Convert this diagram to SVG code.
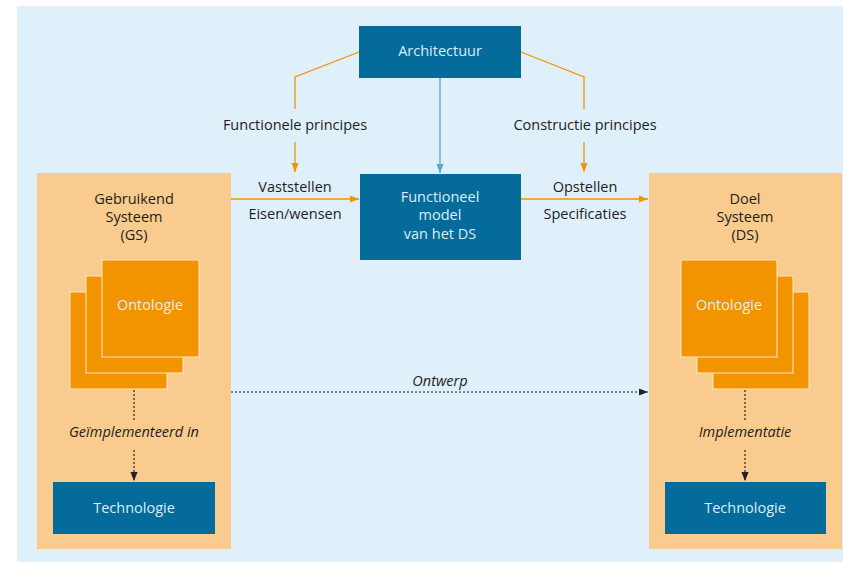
<svg xmlns="http://www.w3.org/2000/svg" width="843" height="562" viewBox="0 0 843 562">
<style>
.t{font-family:"Open Sans","Noto Sans",sans-serif;font-size:14.5px;fill:#1e1e1e;text-anchor:middle}
.w{fill:#dcedf7}
.i{font-style:italic}
.blue{fill:#046b9b}
.peach{fill:#f9cb8e}
.sheet{fill:#f29400;stroke:#fde6c4;stroke-width:1}
.or{fill:none;stroke:#f29400;stroke-width:1.3}
.dot{fill:none;stroke:#222;stroke-width:1.2;stroke-dasharray:2 2}
</style>
<defs>
<marker id="ao" viewBox="0 0 10 10" refX="10" refY="5" markerWidth="9" markerHeight="9" markerUnits="userSpaceOnUse" orient="auto"><path d="M0,1 L10,5 L0,9 Z" fill="#f29400"/></marker>
<marker id="ab" viewBox="0 0 10 10" refX="10" refY="5" markerWidth="9" markerHeight="9" markerUnits="userSpaceOnUse" orient="auto"><path d="M0,1 L10,5 L0,9 Z" fill="#5ca7d0"/></marker>
<marker id="ak" viewBox="0 0 10 10" refX="10" refY="5" markerWidth="9" markerHeight="9" markerUnits="userSpaceOnUse" orient="auto"><path d="M0,1 L10,5 L0,9 Z" fill="#222"/></marker>
</defs>
<rect x="17" y="6" width="826" height="556" fill="#dff0fa"/>

<g id="gs">
<rect class="peach" x="37" y="173" width="194" height="376"/>
<text class="t" x="134" y="204">Gebruikend</text>
<text class="t" x="134" y="222">Systeem</text>
<text class="t" x="134" y="240">(GS)</text>
</g>
<g id="ds">
<rect class="peach" x="649" y="173" width="193" height="376"/>
<text class="t" x="745" y="204">Doel</text>
<text class="t" x="745" y="222">Systeem</text>
<text class="t" x="745" y="240">(DS)</text>
</g>

<g id="ont-gs">
<rect class="sheet" x="70" y="292" width="97" height="97"/>
<rect class="sheet" x="86" y="276" width="97" height="97"/>
<rect class="sheet" x="102" y="260" width="97" height="97"/>
<text class="t w" x="150" y="310">Ontologie</text>
</g>
<g id="ont-ds">
<rect class="sheet" x="713" y="292" width="96" height="97"/>
<rect class="sheet" x="697" y="276" width="96" height="97"/>
<rect class="sheet" x="681" y="260" width="96" height="97"/>
<text class="t w" x="729" y="310">Ontologie</text>
</g>

<g id="arch">
<rect class="blue" x="359" y="26" width="162" height="52"/>
<text class="t w" x="440" y="56">Architectuur</text>
</g>
<g id="fm">
<rect class="blue" x="360" y="174" width="161" height="86"/>
<text class="t w" x="440" y="202">Functioneel</text>
<text class="t w" x="440" y="220">model</text>
<text class="t w" x="440" y="238.5">van het DS</text>
</g>
<g id="tech-gs">
<rect class="blue" x="53" y="482" width="162" height="52"/>
<text class="t w" x="134" y="513">Technologie</text>
</g>
<g id="tech-ds">
<rect class="blue" x="665" y="482" width="161" height="52"/>
<text class="t w" x="745" y="513">Technologie</text>
</g>

<g id="connectors">
<path class="or" d="M359,52 L295,77 L295,109"/>
<path class="or" d="M295,142 L295,172" marker-end="url(#ao)"/>
<path class="or" d="M521,52 L584,77 L584,109"/>
<path class="or" d="M584,142 L584,172" marker-end="url(#ao)"/>
<path d="M440,78 L440,173" fill="none" stroke="#5ca7d0" stroke-width="1.3" marker-end="url(#ab)"/>
<path class="or" d="M231,199 L359,199" marker-end="url(#ao)"/>
<path class="or" d="M521,199 L648,199" marker-end="url(#ao)"/>
<path class="dot" d="M231,392 L648,392" marker-end="url(#ak)"/>
<path class="dot" d="M134,390 L134,422"/>
<path class="dot" d="M134,450 L134,481" marker-end="url(#ak)"/>
<path class="dot" d="M745,390 L745,422"/>
<path class="dot" d="M745,450 L745,481" marker-end="url(#ak)"/>
<text class="t" x="295" y="130">Functionele principes</text>
<text class="t" x="585" y="130">Constructie principes</text>
<text class="t" x="295" y="192">Vaststellen</text>
<text class="t" x="295" y="219">Eisen/wensen</text>
<text class="t" x="585" y="192">Opstellen</text>
<text class="t" x="585" y="219">Specificaties</text>
<text class="t i" x="440" y="386">Ontwerp</text>
<text class="t i" x="134" y="437">Geïmplementeerd in</text>
<text class="t i" x="745" y="437">Implementatie</text>
</g>
</svg>
